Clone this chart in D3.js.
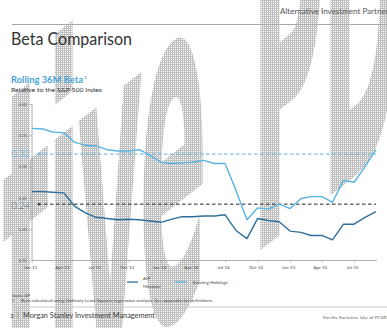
<!DOCTYPE html>
<html>
<head>
<meta charset="utf-8">
<script src="https://cdn.jsdelivr.net/npm/d3@7/dist/d3.min.js"></script>
<style>
  html, body { margin: 0; padding: 0; background: #fff; }
  svg { display: block; }
</style>
</head>
<body>
<svg id="chart" width="387" height="328"></svg>
<script>
// Monthly observations, Jan 2013 – Sep 2015
const months = [
  "2013-01","2013-02","2013-03","2013-04","2013-05","2013-06","2013-07","2013-08","2013-09","2013-10","2013-11","2013-12",
  "2014-01","2014-02","2014-03","2014-04","2014-05","2014-06","2014-07","2014-08","2014-09","2014-10","2014-11","2014-12",
  "2015-01","2015-02","2015-03","2015-04","2015-05","2015-06","2015-07","2015-08","2015-09"
];

// Rolling 36-month beta vs. the S&P 500
const existingHoldings = [
  0.361, 0.360, 0.355, 0.354, 0.339, 0.334, 0.333, 0.327, 0.325, 0.325, 0.327, 0.318,
  0.307, 0.305, 0.306, 0.307, 0.310, 0.305, 0.305, 0.262, 0.215, 0.234, 0.232, 0.240,
  0.233, 0.249, 0.252, 0.252, 0.243, 0.278, 0.275, 0.300, 0.327
];
const aipMandate = [
  0.260, 0.260, 0.259, 0.258, 0.237, 0.226, 0.219, 0.217, 0.215, 0.216, 0.215, 0.213,
  0.211, 0.216, 0.220, 0.220, 0.221, 0.221, 0.223, 0.198, 0.185, 0.217, 0.214, 0.212,
  0.197, 0.195, 0.190, 0.190, 0.183, 0.208, 0.208, 0.219, 0.228
];

// Axis ticks
const yTicks = [0.15, 0.20, 0.25, 0.30, 0.35, 0.40];
const xTickMonths = ["2013-01","2013-04","2013-07","2013-10","2014-01","2014-04","2014-07","2014-10","2015-01","2015-04","2015-07"];
const xTickLabels = ["Jan-13","Apr-13","Jul-13","Oct-13","Jan-14","Apr-14","Jul-14","Oct-14","Jan-15","Apr-15","Jul-15"];

// Current-level markers
const refValues = [0.32, 0.24];
const refLabels = ["0.32", "0.24"];

const seriesNames = ["AIP Mandate", "Existing Holdings"];

const C_EXIST = "#58b2e2";
const C_AIP = "#2f6f9c";
const FONT = "Lato, 'Open Sans', sans-serif";

const parse = d3.timeParse("%Y-%m");
const dates = months.map(parse);

const svg = d3.select("#chart");

// ---- watermark (dotted, behind everything) ----
const defs = svg.append("defs");
const pat = defs.append("pattern")
  .attr("id", "dots").attr("patternUnits", "userSpaceOnUse")
  .attr("width", 2).attr("height", 2);
pat.append("rect").attr("width", 2).attr("height", 2).attr("fill", "#c0c0c0");
pat.append("rect").attr("x", 1).attr("y", 1).attr("width", 1).attr("height", 1).attr("fill", "#ffffff");

const clip = defs.append("clipPath").attr("id", "wmClip");
const wm = clip.append("text")
  .attr("transform", "translate(2,452) skewY(-38) scale(0.95,4.2)")
  .attr("font-family", "'DejaVu Sans Condensed', 'DejaVu Sans', sans-serif")
  .attr("font-weight", "bold")
  .attr("font-size", 118)
  .attr("letter-spacing", -4);
wm.append("tspan").text("tive");
wm.append("tspan").attr("dx", 50).text("PDF");
svg.append("rect")
  .attr("width", 387).attr("height", 328)
  .attr("fill", "url(#dots)")
  .attr("clip-path", "url(#wmClip)");

// ---- page header ----
svg.append("text")
  .attr("x", 280).attr("y", 13.5)
  .attr("font-family", FONT).attr("font-size", 8).attr("fill", "#555")
  .attr("textLength", 112).attr("lengthAdjust", "spacingAndGlyphs")
  .text("Alternative Investment Partners");
svg.append("line")
  .attr("x1", 12).attr("x2", 387).attr("y1", 24.5).attr("y2", 24.5)
  .attr("stroke", "#a8a8a8").attr("stroke-width", 1);
svg.append("text")
  .attr("x", 11).attr("y", 44.5)
  .attr("font-family", FONT).attr("font-size", 17).attr("fill", "#333")
  .attr("textLength", 121).attr("lengthAdjust", "spacingAndGlyphs")
  .text("Beta Comparison");

svg.append("text")
  .attr("x", 11).attr("y", 83)
  .attr("font-family", FONT).attr("font-weight", "bold").attr("font-size", 9)
  .attr("fill", "#4aa3d8")
  .attr("textLength", 72).attr("lengthAdjust", "spacingAndGlyphs")
  .text("Rolling 36M Beta");
svg.append("text")
  .attr("x", 84).attr("y", 79)
  .attr("font-family", FONT).attr("font-weight", "bold").attr("font-size", 4.5)
  .attr("fill", "#4aa3d8").text("1");
svg.append("text")
  .attr("x", 11).attr("y", 91.5)
  .attr("font-family", FONT).attr("font-size", 5.6).attr("fill", "#333")
  .attr("textLength", 91).attr("lengthAdjust", "spacingAndGlyphs")
  .text("Relative to the S&P 500 Index");

// ---- chart ----
const x = d3.scaleTime().domain(d3.extent(dates)).range([32, 376]);
const y = d3.scaleLinear().domain([0.15, 0.40]).range([260.5, 104]);

// y axis
const yAxis = d3.axisLeft(y).tickValues(yTicks).tickFormat(d3.format(".2f"))
  .tickSize(3).tickPadding(2);
const gy = svg.append("g").attr("transform", "translate(32,0)").call(yAxis);
gy.select(".domain").attr("stroke", "#9a9a9a").attr("stroke-width", 0.8)
  .attr("d", `M0,${y(0.40)}V${y(0.15)}`);
gy.selectAll(".tick line").attr("stroke", "#9a9a9a").attr("stroke-width", 0.6);
gy.selectAll(".tick text").attr("font-family", FONT).attr("font-size", 4.2).attr("fill", "#555");

// x axis
const xAxis = d3.axisBottom(x)
  .tickValues(xTickMonths.map(parse))
  .tickFormat((d, i) => xTickLabels[i])
  .tickSize(2).tickPadding(3);
const gx = svg.append("g").attr("transform", `translate(0,${y(0.15)})`).call(xAxis);
gx.select(".domain").attr("stroke", "#9a9a9a").attr("stroke-width", 0.8)
  .attr("d", "M32,0H377");
gx.selectAll(".tick line").attr("stroke", "#9a9a9a").attr("stroke-width", 0.6);
gx.selectAll(".tick text").attr("font-family", FONT).attr("font-size", 4.5)
  .attr("fill", "#444").attr("dx", -2);

// reference lines with labels
const refColors = [C_EXIST, "#222"];
const refTextColors = ["#4aa8dc", "#4d6478"];
const refLabelShift = ["0.35em", "0.5em"];
refValues.forEach((v, i) => {
  svg.append("line")
    .attr("x1", 38).attr("x2", x(dates[dates.length - 1]))
    .attr("y1", y(v)).attr("y2", y(v))
    .attr("stroke", refColors[i]).attr("stroke-width", 1)
    .attr("stroke-dasharray", "3.5,2.5");
  svg.append("path")
    .attr("d", `M${37},${y(v)} l2.5,-1.5 v3 z`)
    .attr("fill", refColors[i]);
  svg.append("text")
    .attr("x", 30).attr("y", y(v)).attr("dy", refLabelShift[i])
    .attr("text-anchor", "end")
    .attr("font-family", FONT).attr("font-size", 9.5).attr("font-weight", 300)
    .attr("fill", refTextColors[i])
    .text(refLabels[i]);
});

// series lines
const line = d3.line().x((d, i) => x(dates[i])).y(d => y(d));
svg.append("path").datum(existingHoldings)
  .attr("d", line).attr("fill", "none")
  .attr("stroke", C_EXIST).attr("stroke-width", 1.4).attr("stroke-linejoin", "round");
svg.append("path").datum(aipMandate)
  .attr("d", line).attr("fill", "none")
  .attr("stroke", C_AIP).attr("stroke-width", 1.4).attr("stroke-linejoin", "round");

// legend
const lg = svg.append("g").attr("font-family", FONT).attr("font-size", 4.6).attr("fill", "#444");
lg.append("line").attr("x1", 127).attr("x2", 138).attr("y1", 282).attr("y2", 282)
  .attr("stroke", C_AIP).attr("stroke-width", 1.3);
lg.append("text").attr("x", 143).attr("y", 279.5).text("AIP");
lg.append("text").attr("x", 143).attr("y", 287.5).text("Mandate");
lg.append("line").attr("x1", 175).attr("x2", 187).attr("y1", 282).attr("y2", 282)
  .attr("stroke", C_EXIST).attr("stroke-width", 1.3);
lg.append("text").attr("x", 193).attr("y", 283.5).text(seriesNames[1]);

// footnotes
svg.append("text").attr("x", 12).attr("y", 296.5)
  .attr("font-family", FONT).attr("font-size", 3.6).attr("fill", "#444")
  .text("Source: AIP");
svg.append("text").attr("x", 12).attr("y", 302)
  .attr("font-family", FONT).attr("font-size", 3.6).attr("fill", "#444").text("1");
svg.append("text").attr("x", 21).attr("y", 302)
  .attr("font-family", FONT).attr("font-size", 3.6).attr("fill", "#444")
  .attr("textLength", 192).attr("lengthAdjust", "spacingAndGlyphs")
  .text("Beta calculated using Ordinary Least Squares regression analysis.  See appendix for definitions.");

svg.append("line")
  .attr("x1", 12).attr("x2", 387).attr("y1", 307).attr("y2", 307)
  .attr("stroke", "#c8c8c8").attr("stroke-width", 1);

// page footer
svg.append("text").attr("x", 10).attr("y", 317.5)
  .attr("font-family", FONT).attr("font-size", 6.5).attr("fill", "#444").text("3");
svg.append("text").attr("x", 17).attr("y", 317.5)
  .attr("font-family", FONT).attr("font-size", 7).attr("fill", "#777").text("|");
svg.append("text").attr("x", 23).attr("y", 317.5)
  .attr("font-family", FONT).attr("font-size", 7).attr("fill", "#3a3a3a")
  .attr("textLength", 132).attr("lengthAdjust", "spacingAndGlyphs")
  .text("Morgan Stanley Investment Management");
svg.append("text").attr("x", 323).attr("y", 319)
  .attr("font-family", FONT).attr("font-size", 3.6).attr("fill", "#666")
  .attr("textLength", 66).attr("lengthAdjust", "spacingAndGlyphs")
  .text("For the Exclusive Use of PCSRS");
</script>
</body>
</html>
